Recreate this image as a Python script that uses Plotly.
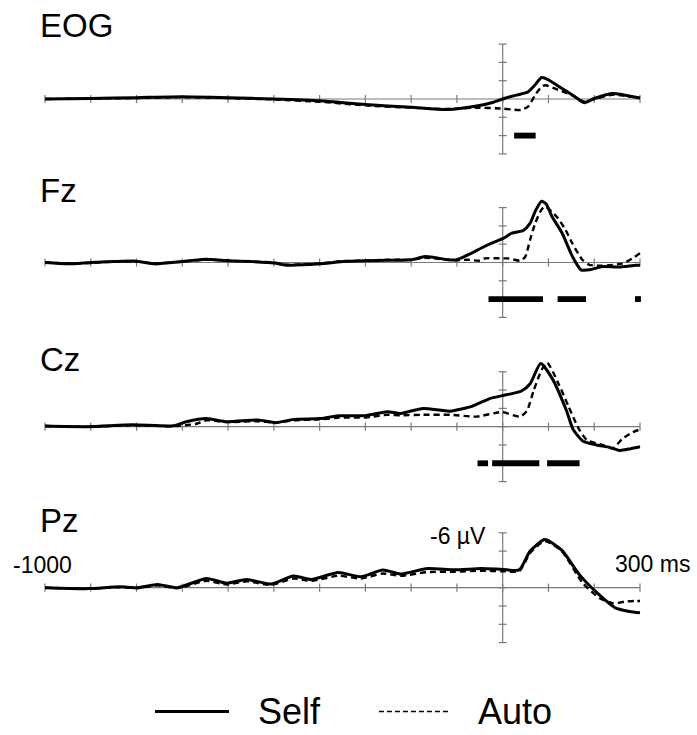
import plotly.graph_objects as go

# ---------------- data (µV, negative = up, time in ms) ----------------
channels = ["EOG", "Fz", "Cz", "Pz"]

eog_self_t = [-1000, -900, -800, -700, -600, -500, -400, -300, -200, -120, -60, -20, 0, 20, 40, 56, 70, 85, 100, 128, 158, 178, 200, 238, 260, 300]
eog_self_v = [0, -0.05, -0.15, -0.25, -0.15, 0.0, 0.2, 0.6, 0.9, 1.15, 0.8, 0.35, 0.0, -0.3, -0.55, -0.8, -1.5, -2.35, -2.1, -1.2, -0.25, 0.4, -0.05, -0.6, -0.5, -0.1]
eog_auto_t = [-1000, -900, -800, -700, -600, -500, -400, -300, -200, -120, -60, 0, 20, 40, 56, 71, 85, 93, 121, 150, 178, 200, 238, 260, 300]
eog_auto_v = [0, -0.05, -0.1, -0.2, -0.1, 0.05, 0.3, 0.7, 0.95, 1.1, 0.95, 1.05, 1.15, 1.2, 0.8, -0.45, -1.35, -1.5, -1.0, -0.45, 0.3, 0.0, -0.45, -0.4, -0.1]

fz_self_t = [-1000, -950, -900, -850, -800, -760, -700, -650, -600, -550, -500, -470, -400, -350, -300, -250, -200, -170, -150, -120, -100, -75, -40, -20, 0, 20, 45, 60, 72, 85, 95, 108, 130, 152, 171, 190, 218, 254, 291, 300]
fz_self_v = [0, 0.15, 0, -0.1, -0.15, 0.15, -0.1, -0.35, -0.2, -0.1, 0.05, 0.3, 0.15, -0.1, -0.2, -0.25, -0.3, -0.65, -0.55, -0.3, -0.3, -0.85, -1.75, -2.2, -2.6, -3.2, -3.5, -4.3, -5.7, -6.7, -6.4, -5.0, -3.2, -0.7, 0.8, 0.8, 0.45, 0.5, 0.3, 0.3]
fz_auto_t = [-1000, -950, -900, -850, -800, -760, -700, -650, -600, -550, -500, -470, -400, -350, -300, -250, -200, -170, -150, -120, -100, -75, -50, -39, 0, 12, 38, 49, 60, 71, 85, 93, 118, 137, 152, 174, 189, 218, 262, 285, 300]
fz_auto_v = [0, 0.1, 0.05, -0.1, -0.1, 0.1, -0.1, -0.3, -0.2, -0.1, 0.0, 0.25, 0.1, -0.15, -0.2, -0.3, -0.3, -0.5, -0.45, -0.3, -0.25, -0.3, -0.2, -0.45, -0.45, -0.45, -0.2, -0.6, -2.5, -4.3, -5.8, -6.1, -5.0, -3.6, -2.1, -0.3, 0.25, 0.35, 0.1, -0.5, -1.0]

cz_self_t = [-1000, -906, -808, -720, -691, -647, -603, -535, -496, -457, -398, -359, -301, -252, -223, -174, -115, -66, -27, 0, 41, 60, 83, 109, 139, 154, 176, 205, 234, 256, 280, 300]
cz_self_v = [-0.07, 0, -0.2, -0.1, -0.55, -0.9, -0.55, -0.73, -0.44, -0.8, -0.9, -1.2, -1.2, -1.64, -1.45, -2.0, -1.7, -2.25, -3.1, -3.4, -3.9, -4.7, -6.9, -5.2, -1.8, 0.3, 1.6, 2.0, 2.26, 2.6, 2.4, 2.2]
cz_auto_t = [-1000, -906, -808, -720, -671, -647, -603, -535, -496, -457, -398, -359, -301, -252, -223, -174, -115, -57, -2, 38, 53, 68, 85, 97, 122, 144, 166, 184, 218, 240, 262, 284, 300]
cz_auto_v = [-0.07, 0, -0.15, -0.05, -0.3, -0.7, -0.5, -0.6, -0.45, -0.7, -0.8, -1.0, -1.0, -1.3, -1.25, -1.3, -1.3, -1.1, -1.6, -1.1, -1.75, -4.0, -6.2, -7.0, -4.7, -2.2, 0.2, 1.45, 2.0, 2.35, 1.3, 0.6, 0.3]

pz_self_t = [-1000, -906, -837, -798, -754, -711, -647, -603, -559, -506, -457, -418, -359, -310, -262, -223, -164, -105, -47, 0, 36, 60, 92, 129, 168, 207, 246, 277, 300]
pz_self_v = [0, 0.1, -0.1, 0, -0.36, 0, -1.0, -0.5, -0.9, -0.4, -1.27, -0.9, -1.67, -1.2, -1.93, -1.5, -2.1, -1.95, -2.1, -2.0, -1.95, -4.0, -5.27, -4.1, -1.4, 0.6, 2.2, 2.6, 2.75]
pz_auto_t = [-1000, -906, -837, -798, -754, -711, -647, -603, -559, -506, -457, -418, -359, -310, -262, -223, -164, -105, -47, 0, 36, 60, 92, 129, 175, 212, 241, 270, 292, 300]
pz_auto_v = [0, 0.1, -0.05, 0.05, -0.25, 0.05, -0.75, -0.35, -0.7, -0.3, -1.0, -0.75, -1.3, -1.0, -1.55, -1.3, -1.7, -1.75, -1.85, -1.8, -1.8, -3.8, -5.1, -4.0, -0.5, 1.16, 1.7, 1.5, 1.45, 1.45]

# significant intervals (ms)
sig_eog = [(25, 72)]
sig_fz = [(-31, 88), (120, 182), (289, 302)]
sig_cz = [(-55, -32), (-23, 80), (97, 168)]
sig_pz = []

x_ticks = list(range(-1000, 301, 100))
y_ticks = [-6, -4, -2, 0, 2, 4, 6]
sig_level = 4  # µV level where significance bars sit

legend_names = ["Self", "Auto"]
x_label_left = "-1000"
x_label_right = "300 ms"
y_label_top = "-6 µV"

series = [
    (eog_self_t, eog_self_v, eog_auto_t, eog_auto_v, sig_eog),
    (fz_self_t, fz_self_v, fz_auto_t, fz_auto_v, sig_fz),
    (cz_self_t, cz_self_v, cz_auto_t, cz_auto_v, sig_cz),
    (pz_self_t, pz_self_v, pz_auto_t, pz_auto_v, sig_pz),
]

# ---------------- layout geometry ----------------
W, H = 697, 735
X_LEFT_PX, X_RIGHT_PX = 45, 640
ms_per_px = 1300 / (X_RIGHT_PX - X_LEFT_PX)
x_range = [-1000 - X_LEFT_PX * ms_per_px, 300 + (W - X_RIGHT_PX) * ms_per_px]
UV_PX = 9.15
baseline_px = [99, 262.5, 426.7, 587.7]
title_px = [25, 191, 359, 520]

FONT = "Liberation Sans, Arial, Helvetica, sans-serif"
AXIS_COLOR = "#7a7a7a"

fig = go.Figure()
shapes = []
annotations = []
layout_axes = {}

xt_half = 0.45          # µV
yt_half = 4 * ms_per_px  # ms

for i, (st, sv, at, av, sig) in enumerate(series):
    yname = "y" if i == 0 else f"y{i + 1}"
    ykey = "yaxis" if i == 0 else f"yaxis{i + 1}"
    p0 = baseline_px[i]
    rng = [(H - p0) / UV_PX, -p0 / UV_PX]
    ax = dict(range=rng, visible=False, domain=[0, 1], fixedrange=True)
    if i > 0:
        ax["overlaying"] = "y"
    layout_axes[ykey] = ax

    # axes drawn in data coordinates
    axx = [x_ticks[0], x_ticks[-1], None, 0, 0, None]
    axy = [0, 0, None, y_ticks[0], y_ticks[-1], None]
    for t in x_ticks:
        axx += [t, t, None]
        axy += [-xt_half, xt_half, None]
    for v in y_ticks:
        axx += [-yt_half, yt_half, None]
        axy += [v, v, None]
    fig.add_trace(go.Scatter(x=axx, y=axy, yaxis=yname, mode="lines",
                             line=dict(color=AXIS_COLOR, width=1.2),
                             hoverinfo="skip", showlegend=False))

    fig.add_trace(go.Scatter(x=at, y=av, yaxis=yname, mode="lines", name=legend_names[1],
                             line=dict(color="black", width=2.4, dash="6px,4px",
                                       shape="spline", smoothing=0.6),
                             showlegend=False))
    fig.add_trace(go.Scatter(x=st, y=sv, yaxis=yname, mode="lines", name=legend_names[0],
                             line=dict(color="black", width=3, shape="spline", smoothing=0.6),
                             showlegend=False))

    for (a, b) in sig:
        shapes.append(dict(type="rect", xref="x", yref=yname, x0=a, x1=b,
                           y0=sig_level - 0.32, y1=sig_level + 0.32,
                           fillcolor="black", line=dict(width=0)))

    annotations.append(dict(text=channels[i], xref="paper", yref="paper",
                            x=38 / W, y=1 - title_px[i] / H, xanchor="left", yanchor="middle",
                            showarrow=False, font=dict(family=FONT, size=33, color="black")))

# axis labels on the Pz panel
annotations.append(dict(text=x_label_left, xref="x", yref="y4", x=-1000, y=-2.5,
                        xanchor="center", yanchor="middle", xshift=-3, showarrow=False,
                        font=dict(family=FONT, size=23, color="black")))
annotations.append(dict(text=x_label_right, xref="x", yref="y4", x=300, y=-2.6,
                        xanchor="left", yanchor="middle", xshift=-27, showarrow=False,
                        font=dict(family=FONT, size=23, color="black")))
annotations.append(dict(text=y_label_top, xref="x", yref="y4", x=0, y=-5.6,
                        xanchor="right", yanchor="middle", xshift=-15, showarrow=False,
                        font=dict(family=FONT, size=23, color="black")))

# legend drawn at the bottom
ly = 1 - 711.5 / H
shapes.append(dict(type="line", xref="paper", yref="paper", x0=155 / W, x1=229 / W, y0=ly, y1=ly,
                   line=dict(color="black", width=3)))
shapes.append(dict(type="line", xref="paper", yref="paper", x0=379 / W, x1=450 / W, y0=ly, y1=ly,
                   line=dict(color="black", width=1.6, dash="5px,3px")))
annotations.append(dict(text=legend_names[0], xref="paper", yref="paper", x=256 / W, y=ly,
                        xanchor="left", yanchor="middle", showarrow=False,
                        font=dict(family=FONT, size=36, color="black")))
annotations.append(dict(text=legend_names[1], xref="paper", yref="paper", x=476 / W, y=ly,
                        xanchor="left", yanchor="middle", showarrow=False,
                        font=dict(family=FONT, size=36, color="black")))

fig.update_layout(
    width=W, height=H,
    margin=dict(l=0, r=0, t=0, b=0),
    paper_bgcolor="white", plot_bgcolor="white",
    xaxis=dict(range=x_range, visible=False, domain=[0, 1], fixedrange=True),
    shapes=shapes, annotations=annotations,
    showlegend=False,
    **layout_axes,
)

fig.write_html("out.html",
               config={"displayModeBar": False},
               post_script="document.body.style.margin='0';document.body.style.overflow='hidden';")
